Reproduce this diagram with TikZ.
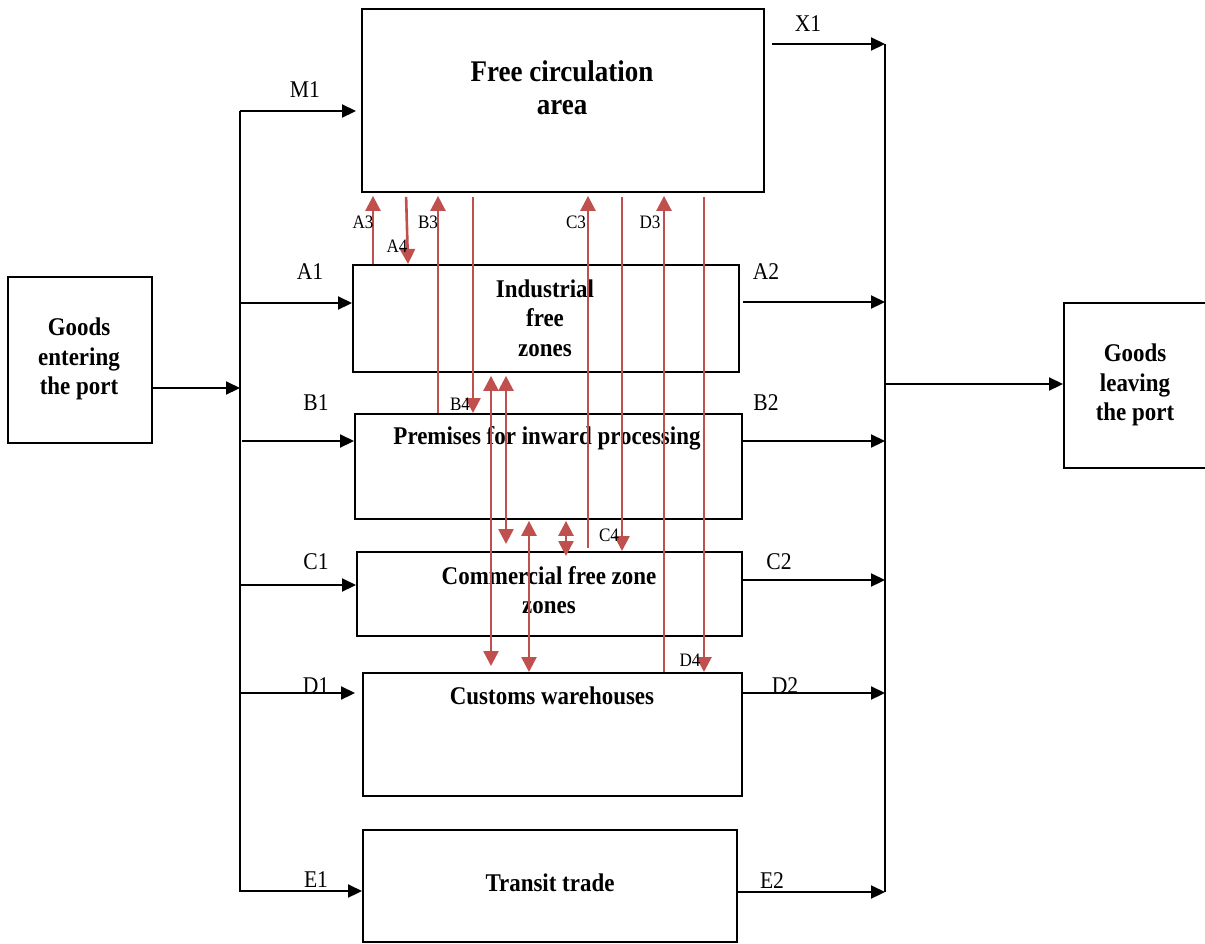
\documentclass[tikz,border=0pt]{standalone}
\usepackage{fontspec}
\setmainfont{Liberation Serif}[FakeStretch=0.9]
\usetikzlibrary{arrows.meta,calc}
\definecolor{redarr}{RGB}{192,80,77}
\begin{document}
\begin{tikzpicture}[x=1pt,y=-1pt,
 box/.style={draw,line width=1.9pt,rectangle,inner sep=0pt,anchor=north west},
 txt/.style={font=\fontsize{25.5}{29.5}\selectfont\bfseries,align=center,inner sep=0pt},
 lab/.style={font=\fontsize{24}{26}\selectfont,inner sep=0pt},
 slab/.style={font=\fontsize{19}{21}\selectfont,inner sep=0pt},
 blk/.style={line width=2.2pt,-{Triangle[length=14pt,width=13pt]}},
 bus/.style={line width=1.9pt},
 rarr/.style={draw=redarr,line width=2.6pt,-{Triangle[length=15pt,width=15pt]},color=redarr},
 rdbl/.style={draw=redarr,line width=2.6pt,{Triangle[length=15pt,width=15pt]}-{Triangle[length=15pt,width=15pt]},color=redarr}
]
\useasboundingbox (0,0) rectangle (1205,943);
\fill[white] (0,0) rectangle (1205,943);

% boxes
\node[box,minimum width=144pt,minimum height=166pt] (gin) at (7,276) {};
\node[box,minimum width=402pt,minimum height=183pt] (free) at (361,8) {};
\node[box,minimum width=386pt,minimum height=107pt] (ind) at (352,264) {};
\node[box,minimum width=387pt,minimum height=105pt] (prem) at (354,413) {};
\node[box,minimum width=385pt,minimum height=84pt] (com) at (356,551) {};
\node[box,minimum width=379pt,minimum height=123pt] (cus) at (362,672) {};
\node[box,minimum width=374pt,minimum height=112pt] (tra) at (362,829) {};
\node[box,minimum width=146pt,minimum height=165pt] (gout) at (1063,302) {};

% texts
\node[txt,font=\fontsize{30}{33}\selectfont\bfseries] (tfree) at (562,88) {Free circulation\\area};
\node[txt] (tind) at (545,318) {Industrial\\free\\zones};
\node[txt] (tprem) at (547,438) {Premises for inward processing};
\node[txt] (tcom) at (549,590) {Commercial free zone\\zones};
\node[txt] (tcus) at (552,696) {Customs warehouses};
\node[txt] (ttra) at (550,883) {Transit trade};
\node[txt] (tgin) at (79,359) {Goods\\entering\\the port};
\node[txt] (tgout) at (1135,385) {Goods\\leaving\\the port};

% buses
\coordinate (Lt) at (240,111);
\coordinate (Lb) at (240,892);
\coordinate (Rt) at (885,44);
\coordinate (Rb) at (885,892);
\draw[bus] (Lt) -- (Lb);
\draw[bus] (Rt) -- (Rb);

% left arrows
\coordinate (jin) at (240,388);
\coordinate (jA1) at (240,303);
\coordinate (jB1) at (242,441);
\coordinate (jC1) at (240,585);
\coordinate (jD1) at (240,693);
\coordinate (jE1) at (240,891);
\draw[blk] (gin.east |- jin) -- (jin);
\draw[blk,shorten >=5pt] (Lt) -- (free.west |- Lt);
\draw[blk] (jA1) -- (ind.west |- jA1);
\draw[blk] (jB1) -- (prem.west |- jB1);
\draw[blk] (jC1) -- (com.west |- jC1);
\draw[blk,shorten >=7pt] (jD1) -- (cus.west |- jD1);
\draw[blk] (jE1) -- (tra.west |- jE1);

% right arrows
\coordinate (jA2) at (885,302);
\coordinate (jB2) at (885,441);
\coordinate (jC2) at (885,580);
\coordinate (jD2) at (885,693);
\coordinate (jE2) at (885,892);
\coordinate (jout) at (885,384);
\draw[blk,shorten <=7pt] (free.east |- Rt) -- (Rt);
\draw[blk,shorten <=3pt] (ind.east |- jA2) -- (jA2);
\draw[blk] (prem.east |- jB2) -- (jB2);
\draw[blk] (com.east |- jC2) -- (jC2);
\draw[blk] (cus.east |- jD2) -- (jD2);
\draw[blk] (tra.east |- jE2) -- (jE2);
\draw[blk] (jout) -- (gout.west |- jout);

% black labels
\node[lab] (lM1) at (305,90) {M1};
\node[lab] (lA1) at (310,272) {A1};
\node[lab] (lB1) at (316,403) {B1};
\node[lab] (lC1) at (316,562) {C1};
\node[lab] (lD1) at (316,686) {D1};
\node[lab] (lE1) at (316,880) {E1};
\node[lab] (lX1) at (808,24) {X1};
\node[lab] (lA2) at (766,272) {A2};
\node[lab] (lB2) at (766,403) {B2};
\node[lab] (lC2) at (779,562) {C2};
\node[lab] (lD2) at (785,686) {D2};
\node[lab] (lE2) at (772,881) {E2};

% red arrows
\coordinate (xA3) at (373,0);
\coordinate (xA4a) at (406,0);
\coordinate (xA4b) at (408,0);
\coordinate (xB3) at (438,0);
\coordinate (xB4) at (473,0);
\coordinate (xC3) at (588,0);
\coordinate (xC4) at (622,0);
\coordinate (xD3) at (664,0);
\coordinate (xD4) at (704,0);
\coordinate (xE1) at (491,0);
\coordinate (xE2) at (506,0);
\coordinate (xE3) at (529,0);
\coordinate (xE4) at (566,0);
\draw[rarr,shorten >=3pt] (ind.north -| xA3) -- (free.south -| xA3);
\draw[rarr,shorten <=4pt] (free.south -| xA4a) -- (ind.north -| xA4b);
\draw[rarr,shorten >=3pt] (prem.north -| xB3) -- (free.south -| xB3);
\draw[rarr,shorten <=4pt] (free.south -| xB4) -- (prem.north -| xB4);
\draw[rarr,shorten <=3pt,shorten >=3pt] (com.north -| xC3) -- (free.south -| xC3);
\draw[rarr,shorten <=4pt] (free.south -| xC4) -- (com.north -| xC4);
\draw[rarr,shorten >=3pt] (cus.north -| xD3) -- (free.south -| xD3);
\draw[rarr,shorten <=4pt] (free.south -| xD4) -- (cus.north -| xD4);
\draw[rdbl,shorten <=3pt,shorten >=6pt] (ind.south -| xE1) -- (cus.north -| xE1);
\draw[rdbl,shorten <=3pt,shorten >=7pt] (ind.south -| xE2) -- (com.north -| xE2);
\draw[rdbl,shorten <=1pt] (prem.south -| xE3) -- (cus.north -| xE3);
\draw[rdbl,shorten <=1pt] (prem.south -| xE4) -- ($(com.north -| xE4)+(0,5)$);

% small labels
\node[slab] (lA3) at (363,222) {A3};
\node[slab] (lA4) at (397,246) {A4};
\node[slab] (lB3) at (428,222) {B3};
\node[slab] (lB4) at (460,404) {B4};
\node[slab] (lC3) at (576,222) {C3};
\node[slab] (lC4) at (609,535) {C4};
\node[slab] (lD3) at (650,222) {D3};
\node[slab] (lD4) at (690,660) {D4};
\end{tikzpicture}
\end{document}
